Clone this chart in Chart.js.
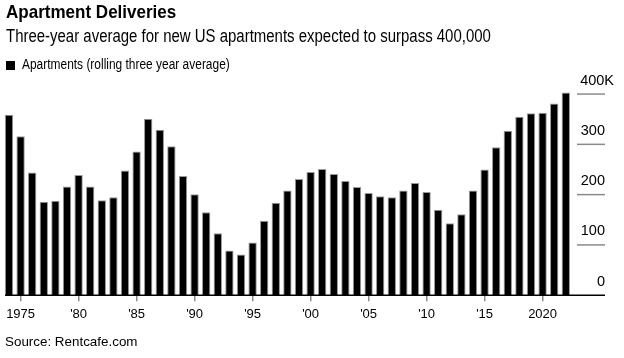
<!DOCTYPE html>
<html>
<head>
<meta charset="utf-8">
<script src="https://cdn.jsdelivr.net/npm/chart.js@4"></script>
<style>
  html, body { margin: 0; padding: 0; background: #fff; }
  body { width: 624px; height: 358px; position: relative; overflow: hidden; font-family: "Liberation Sans", Arial, sans-serif; color: #000; }
  #wrap { position: absolute; left: 0; top: 0; width: 624px; height: 358px; }
  .t { position: absolute; white-space: nowrap; line-height: 1; transform-origin: 0 0; }
  #title { left: 6px; top: 3px; font-size: 18.5px; font-weight: bold; transform: scaleX(0.92); }
  #subtitle { left: 6px; top: 28px; font-size: 17.5px; transform: scaleX(0.855); }
  #legend { left: 6px; top: 56.5px; font-size: 14px; }
  #legend span.box { display: inline-block; width: 9px; height: 9px; background: #000; margin-right: 7px; vertical-align: -1px; }
  #legend span.lt { display: inline-block; transform: scaleX(0.853); transform-origin: 0 0; }
  #source { left: 5px; top: 335px; font-size: 13.4px; }
</style>
</head>
<body>
<div id="wrap"><canvas id="c" width="624" height="358"></canvas></div>
<div class="t" id="title">Apartment Deliveries</div>
<div class="t" id="subtitle">Three-year average for new US apartments expected to surpass 400,000</div>
<div class="t" id="legend"><span class="box"></span><span class="lt">Apartments (rolling three year average)</span></div>
<div class="t" id="source">Source: Rentcafe.com</div>
<script>
const years = [];
for (let y = 1974; y <= 2022; y++) years.push(y);

// Thousands of apartments (rolling three-year average)
const apartments = [
  359, 316, 244, 186, 188, 216, 239, 216, 189, 195,
  248, 286, 351, 329, 296, 237, 201, 165, 123, 89,
  81, 105, 148, 184, 208, 231, 245, 251, 241, 227,
  215, 203, 197, 195, 208, 223, 205, 170, 143, 161,
  208, 250, 294, 327, 355, 362, 363, 381, 403
];

const xTickYears = [1975, 1980, 1985, 1990, 1995, 2000, 2005, 2010, 2015, 2020];
const xTickLabels = ['1975', "'80", "'85", "'90", "'95", "'00", "'05", "'10", "'15", '2020'];

const yTickValues = [0, 100, 200, 300, 400];
const yTickLabels = ['0', '100', '200', '300', '400K'];

const GRAY = '#8a8a8a';

const rightAxisPlugin = {
  id: 'rightAxis',
  afterDatasetsDraw(chart) {
    const ctx = chart.ctx;
    const y = chart.scales.y;
    const gx0 = 577, gx1 = 605;
    ctx.save();
    ctx.font = '14.5px "Liberation Sans", Arial, sans-serif';
    ctx.fillStyle = '#000';
    ctx.textAlign = 'right';
    ctx.textBaseline = 'alphabetic';
    yTickValues.forEach((v, i) => {
      const py = y.getPixelForValue(v);
      if (v !== 0) {
        ctx.strokeStyle = GRAY;
        ctx.lineWidth = 1.5;
        ctx.beginPath();
        ctx.moveTo(gx0, py);
        ctx.lineTo(gx1, py);
        ctx.stroke();
      }
      const last = i === yTickValues.length - 1;
      ctx.fillText(yTickLabels[i], last ? 614 : gx1, py - 9.5);
    });
    const by = y.getPixelForValue(0);
    ctx.strokeStyle = '#000';
    ctx.lineWidth = 1.5;
    ctx.beginPath();
    ctx.moveTo(5, by);
    ctx.lineTo(gx1, by);
    ctx.stroke();
    ctx.restore();
  }
};

new Chart(document.getElementById('c'), {
  type: 'bar',
  data: {
    labels: years,
    datasets: [{
      label: 'Apartments (rolling three year average)',
      data: apartments,
      backgroundColor: '#000',
      borderColor: '#9a9a9a',
      borderWidth: 1,
      barPercentage: 0.72,
      categoryPercentage: 1.0
    }]
  },
  options: {
    responsive: false,
    animation: false,
    devicePixelRatio: 1,
    layout: { padding: { left: 3.2, right: 52.4, top: 84, bottom: 31.2 } },
    plugins: {
      legend: { display: false },
      title: { display: false },
      tooltip: { enabled: false }
    },
    scales: {
      x: {
        type: 'category',
        offset: true,
        border: { display: false },
        grid: {
          offset: false,
          drawOnChartArea: false,
          drawTicks: true,
          tickLength: 6,
          lineWidth: 1.5,
          color: (c) => (c.tick && xTickYears.includes(Number(years[c.index]))) ? GRAY : 'rgba(0,0,0,0)'
        },
        ticks: {
          autoSkip: false,
          maxRotation: 0,
          minRotation: 0,
          padding: 5,
          color: '#000',
          font: { size: 13, family: '"Liberation Sans", Arial, sans-serif' },
          callback: function(value, index) {
            const k = xTickYears.indexOf(years[index]);
            return k >= 0 ? xTickLabels[k] : '';
          }
        }
      },
      y: {
        display: false,
        min: 0,
        max: 420
      }
    }
  },
  plugins: [rightAxisPlugin]
});
</script>
</body>
</html>
